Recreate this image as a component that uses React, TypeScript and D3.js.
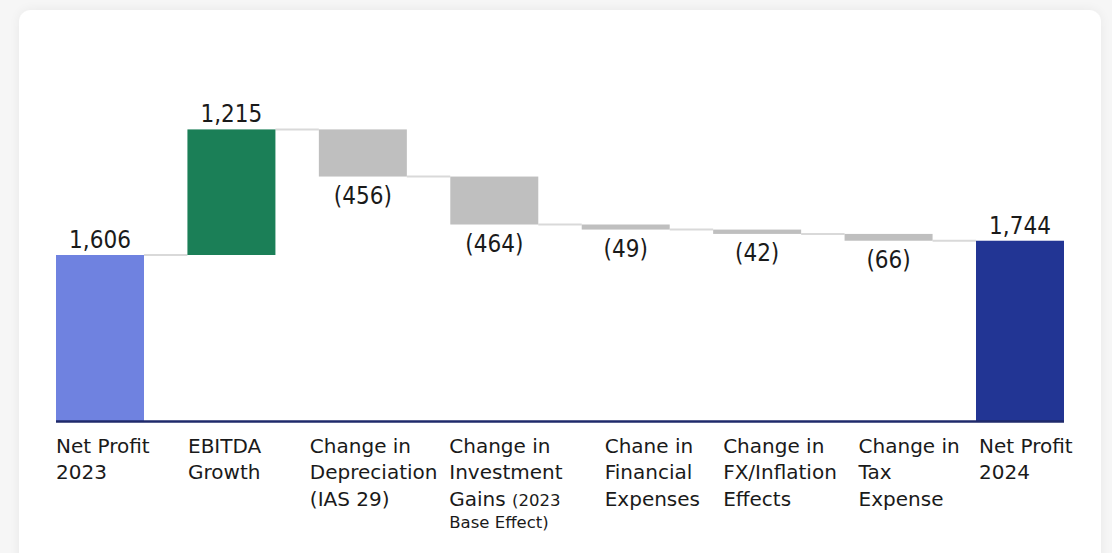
import React from "react";
import * as d3 from "d3";

// Bridge from 2023 net profit to 2024 net profit
const categoryLabels: string[][] = [
  ["Net Profit", "2023"],
  ["EBITDA", "Growth"],
  ["Change in", "Depreciation", "(IAS 29)"],
  ["Change in", "Investment", "Gains {(2023}", "{Base Effect)}"],
  ["Chane in", "Financial", "Expenses"],
  ["Change in", "FX/Inflation", "Effects"],
  ["Change in", "Tax", "Expense"],
  ["Net Profit", "2024"],
];
const stepValues: number[] = [1606, 1215, -456, -464, -49, -42, -66, 1744];
const stepKinds: ("total" | "up" | "down")[] = [
  "total", "up", "down", "down", "down", "down", "down", "total",
];
const valueLabels: string[] = ["1,606", "1,215", "(456)", "(464)", "(49)", "(42)", "(66)", "1,744"];

// horizontal nudge of each category caption relative to its bar's left edge
const captionShift: number[] = [0, 0.6, -9, -1, 23, 10, 14, 3];

const W = 1112;
const H = 553;
const BASE_Y = 421;
const FONT = "'DejaVu Sans', Verdana, sans-serif";
const VALUE_FONT = "'DejaVu Sans Condensed', 'DejaVu Sans', Verdana, sans-serif";

const colors = {
  first: "#6f82e0",
  last: "#223594",
  up: "#1b7f57",
  down: "#bfbfbf",
  connector: "#d9d9d9",
  axis: "#1f2a6b",
  text: "#1a1a1a",
};

type Step = { i: number; start: number; end: number; kind: string; value: number };

function buildSteps(): Step[] {
  let running = 0;
  return stepValues.map((v, i) => {
    const kind = stepKinds[i];
    if (kind === "total") {
      running = v;
      return { i, start: 0, end: v, kind, value: v };
    }
    const start = running;
    running += v;
    return { i, start, end: running, kind, value: v };
  });
}

function renderCaptionLine(line: string, key: number) {
  // segments in {braces} are set in a smaller size
  const parts = line.split(/(\{[^}]*\})/).filter((p) => p.length > 0);
  return parts.map((p, j) => {
    const small = p.startsWith("{");
    const txt = small ? p.slice(1, -1) : p;
    return (
      <tspan key={`${key}-${j}`} fontSize={small ? 16.5 : 20}>
        {txt}
      </tspan>
    );
  });
}

export default function App() {
  const steps = buildSteps();

  const x = d3
    .scaleBand<number>()
    .domain(d3.range(stepValues.length))
    .range([56, 1064])
    .paddingInner(0.3305)
    .paddingOuter(0);

  const pxPerUnit = 166 / 1606;
  const y = d3.scaleLinear().domain([0, 3000]).range([BASE_Y, BASE_Y - 3000 * pxPerUnit]);

  const bw = x.bandwidth();

  const fillFor = (s: Step) =>
    s.kind === "up" ? colors.up : s.kind === "down" ? colors.down : s.i === 0 ? colors.first : colors.last;

  return (
    <svg
      width={W}
      height={H}
      viewBox={`0 0 ${W} ${H}`}
      style={{ position: "absolute", left: 0, top: 0, display: "block" }}
    >
      <defs>
        <filter id="cardShadow" x="-5%" y="-5%" width="110%" height="110%">
          <feGaussianBlur in="SourceAlpha" stdDeviation="6" />
          <feOffset dx="0" dy="0" result="blur" />
          <feComponentTransfer>
            <feFuncA type="linear" slope="0.06" />
          </feComponentTransfer>
          <feMerge>
            <feMergeNode />
            <feMergeNode in="SourceGraphic" />
          </feMerge>
        </filter>
      </defs>
      <rect x={0} y={0} width={W} height={H} fill="#f6f6f6" />
      <rect x={19} y={10} width={1082} height={560} rx={12} fill="#ffffff" filter="url(#cardShadow)" />

      {/* connectors between consecutive bars at the running total */}
      {steps.slice(0, -1).map((s) => {
        const x0 = (x(s.i) as number) + bw;
        const x1 = x(s.i + 1) as number;
        const yy = y(s.end);
        return (
          <line key={`c${s.i}`} x1={x0} x2={x1} y1={yy} y2={yy} stroke={colors.connector} strokeWidth={2} />
        );
      })}

      {/* bars */}
      {steps.map((s) => {
        const top = y(Math.max(s.start, s.end));
        const bot = y(Math.min(s.start, s.end));
        return (
          <rect
            key={`b${s.i}`}
            x={x(s.i) as number}
            y={top}
            width={bw}
            height={Math.max(bot - top, 1)}
            fill={fillFor(s)}
          />
        );
      })}

      {/* baseline */}
      <line x1={56} x2={1064} y1={BASE_Y + 0.5} y2={BASE_Y + 0.5} stroke={colors.axis} strokeWidth={2.5} />

      {/* value labels */}
      {steps.map((s) => {
        const cx = (x(s.i) as number) + bw / 2;
        const neg = s.kind === "down";
        const yy = neg ? y(s.end) + 27 : y(s.end) - 7;
        return (
          <text
            key={`v${s.i}`}
            x={cx}
            y={yy}
            textAnchor="middle"
            fontFamily={VALUE_FONT}
            fontSize={24}
            fill={colors.text}
          >
            {valueLabels[s.i]}
          </text>
        );
      })}

      {/* category captions */}
      {categoryLabels.map((lines, i) => {
        const lx = (x(i) as number) + captionShift[i];
        return (
          <text key={`l${i}`} x={lx} y={453} fontFamily={FONT} fontSize={20} fill={colors.text}>
            {lines.map((ln, k) => (
              <tspan key={k} x={lx} y={453 + k * (k === 3 ? 25 : 26.3)}>
                {renderCaptionLine(ln, k)}
              </tspan>
            ))}
          </text>
        );
      })}
    </svg>
  );
}
